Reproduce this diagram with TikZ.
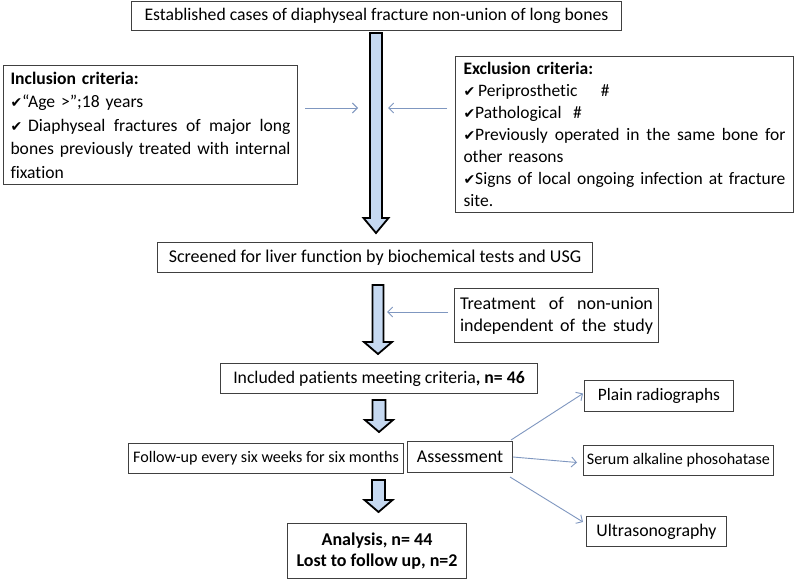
\documentclass[tikz,border=0pt]{standalone}
\usepackage{fontspec}
\setmainfont{Carlito}[Ligatures=NoCommon]
\newfontfamily\symfont{DejaVu Sans}
\newcommand\ck{{\symfont\fontsize{14}{14}\selectfont ✔}}
\usetikzlibrary{arrows.meta}
\definecolor{boxc}{HTML}{404040}
\definecolor{thinc}{HTML}{7F97C0}
\definecolor{bfill}{HTML}{C6D9F1}
\newcommand\bigarrow[6]{%
  \draw[line width=1.8pt, fill=bfill, line join=miter]
    (#1-#5,#2) -- (#1+#5,#2) -- (#1+#5,#3) -- (#1+#6,#3) -- (#1,#4)
    -- (#1-#6,#3) -- (#1-#5,#3) -- cycle;}
\tikzset{
  box/.style={draw=boxc, line width=1pt, inner sep=0pt, anchor=north west,
    font=\fontsize{18}{22}\selectfont},
  thin/.style={draw=thinc, line width=0.9pt, -{Straight Barb[length=5pt,width=10pt]}},
}
\begin{document}
\begin{tikzpicture}[x=1pt,y=-1pt]
\useasboundingbox (0,0) rectangle (800,583);
\fill[white] (0,0) rectangle (800,583);

\node[box, minimum width=490, minimum height=29, font=\fontsize{17.7}{22}\selectfont] (top) at (131,1)
  {Established cases of diaphyseal fracture non-union of long bones};

\node[box, minimum width=294, minimum height=119, text width=280, align=left,
  font=\fontsize{17.6}{23.5}\selectfont] (incl) at (3,65)
  {\textbf{Inclusion criteria:}\\
   \ck“Age >”;18 years\\
   \ck\ Diaphyseal\hfill fractures\hfill of\hfill major\hfill long\\
   bones\hfill previously\hfill treated\hfill with\hfill internal\\
   fixation};

\node[box, minimum width=338, minimum height=156, text width=322, align=left,
  font=\fontsize{17.5}{22}\selectfont] (excl) at (455,56)
  {\textbf{Exclusion criteria:}\\
   \ck\,Periprosthetic\quad\ \#\\
   \ck Pathological\ \ \#\\
   \ck Previously\hfill operated\hfill in\hfill the\hfill same\hfill bone\hfill for\\
   other reasons\\
   \ck Signs\hfill of\hfill local\hfill ongoing\hfill infection\hfill at\hfill fracture\\
   site.};

\node[box, minimum width=435, minimum height=30] (screen) at (157,242)
  {Screened for liver function by biochemical tests and USG};

\node[box, minimum width=204, minimum height=54, text width=193, align=left] (treat) at (454,288)
  {Treatment\hfill of\hfill non-union\\ independent\hfill of\hfill the\hfill study};

\node[box, minimum width=317, minimum height=30, font=\fontsize{17.7}{22}\selectfont] (incl2) at (220,363)
  {Included patients meeting criteria\textbf{, n= 46}};

\node[box, minimum width=275, minimum height=30, font=\fontsize{16.1}{20}\selectfont] (follow) at (128,443)
  {Follow-up every six weeks for six months};

\node[box, minimum width=105, minimum height=31] (assess) at (407,441) {Assessment};

\node[box, minimum width=149, minimum height=31, font=\fontsize{17.4}{22}\selectfont] (plain) at (584,380) {Plain radiographs};

\node[box, minimum width=190, minimum height=30, font=\fontsize{16.1}{20}\selectfont] (serum) at (583,445)
  {Serum alkaline phosohatase};

\node[box, minimum width=140, minimum height=30, font=\fontsize{17.8}{20}\selectfont] (ultra) at (586,516)
  {Ultrasonography};

\node[box, minimum width=179, minimum height=55, align=center,
  font=\fontsize{18}{21}\selectfont\bfseries] (anal) at (287,523)
  {Analysis, n= 44\\Lost to follow up, n=2};

% block arrows
\bigarrow{376}{33}{218}{233}{6}{12.5}
\bigarrow{378}{285}{342}{354}{5.5}{14}
\bigarrow{379}{400}{420}{432}{6.5}{14}
\bigarrow{378.5}{480}{500}{512}{6.5}{14}

% thin arrows
\coordinate (inS) at (305,108); \coordinate (inE) at (358,108);
\coordinate (exS) at (447,108); \coordinate (exE) at (388,108);
\coordinate (trS) at (448,312); \coordinate (trE) at (387,312);
\draw[thin] (inS) -- (inE);
\draw[thin] (exS) -- (exE);
\draw[thin] (trS) -- (trE);
\draw[thin] ([shift={(-2,-1)}]assess.north east) -- ([shift={(-1,-2.5)}]plain.west);
\draw[thin] (assess.east) -- ([shift={(-6,2)}]serum.west);
\draw[thin] ([shift={(-3,4)}]assess.south east) -- ([shift={(-3,6)}]ultra.north west);
\end{tikzpicture}
\end{document}
